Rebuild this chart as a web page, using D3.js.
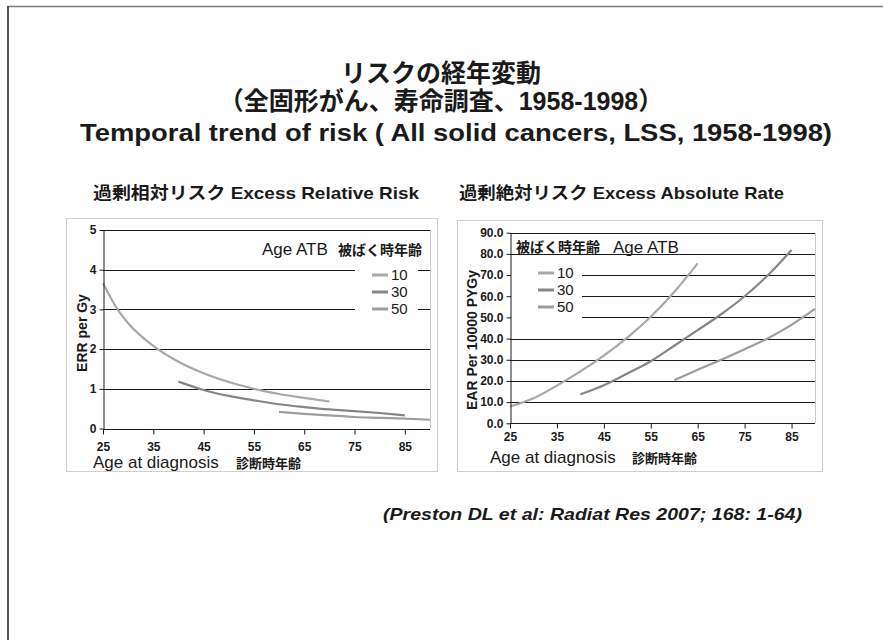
<!DOCTYPE html>
<html><head><meta charset="utf-8">
<script src="https://cdn.jsdelivr.net/npm/d3@7"></script>
<style>
body{margin:0;background:#fff;}
svg{display:block;}
text{font-family:"Liberation Sans",Arial,"Noto Sans CJK JP",sans-serif;fill:#1a1a1a;}
</style></head>
<body>
<svg id="c" width="883" height="640"></svg>
<script>
// ---------- data ----------
const titleLines = ["リスクの経年変動", "（全固形がん、寿命調査、1958-1998）", "Temporal trend of risk ( All solid cancers, LSS, 1958-1998)"];
const subTitles = ["過剰相対リスク Excess Relative Risk", "過剰絶対リスク Excess Absolute Rate"];
const citation = "(Preston DL et al: Radiat Res 2007; 168: 1-64)";
const ageTicks = [25, 35, 45, 55, 65, 75, 85];
const ageDomain = [25, 90];
const seriesNames = ["10", "30", "50"];
const seriesColors = ["#a8a8a8", "#868686", "#9e9e9e"];

const errTicks = [0, 1, 2, 3, 4, 5];
const errAge10 = [25, 28, 30, 35, 40, 45, 50, 55, 60, 65, 70];
const errVal10 = [3.66, 2.98, 2.65, 2.08, 1.68, 1.39, 1.17, 1.0, 0.87, 0.77, 0.68];
const errAge30 = [40, 45, 50, 55, 60, 65, 70, 75, 80, 85];
const errVal30 = [1.18, 0.97, 0.82, 0.71, 0.61, 0.54, 0.48, 0.44, 0.39, 0.33];
const errAge50 = [60, 65, 70, 75, 80, 85, 90];
const errVal50 = [0.42, 0.37, 0.33, 0.29, 0.27, 0.25, 0.22];

const earTicks = [0, 10, 20, 30, 40, 50, 60, 70, 80, 90];
const earAge10 = [25, 30, 35, 40, 45, 50, 55, 60, 65];
const earVal10 = [7.9, 11.8, 17.8, 24.5, 32.0, 40.5, 50.3, 62.0, 75.5];
const earAge30 = [40, 45, 50, 55, 60, 65, 70, 75, 80, 85];
const earVal30 = [13.7, 18.0, 23.5, 29.3, 36.6, 44.0, 51.5, 60.0, 70.0, 81.8];
const earAge50 = [60, 65, 70, 75, 80, 85, 90];
const earVal50 = [20.4, 25.3, 30.0, 35.0, 40.2, 46.5, 54.0];

// ---------- drawing ----------
const svg = d3.select("#c");

// page frame (top & left)
svg.append("line").attr("x1", 7).attr("x2", 883).attr("y1", 6.5).attr("y2", 6.5).attr("stroke", "#777").attr("stroke-width", 1.5);
svg.append("line").attr("x1", 8).attr("x2", 8).attr("y1", 6).attr("y2", 640).attr("stroke", "#555").attr("stroke-width", 2);

// titles
const tl = svg.append("g").attr("font-weight", "bold").attr("text-anchor", "middle");
tl.append("text").attr("x", 441).attr("y", 82).attr("font-size", 25).text(titleLines[0]);
tl.append("text").attr("x", 441).attr("y", 110).attr("font-size", 25).text(titleLines[1]);
tl.append("text").attr("x", 456).attr("y", 141).attr("font-size", 24)
  .attr("textLength", 752).attr("lengthAdjust", "spacingAndGlyphs").text(titleLines[2]);

svg.append("text").attr("x", 93).attr("y", 199).attr("font-size", 17).attr("font-weight", "bold")
  .attr("textLength", 326).attr("lengthAdjust", "spacingAndGlyphs").text(subTitles[0]);
svg.append("text").attr("x", 459).attr("y", 199).attr("font-size", 17).attr("font-weight", "bold")
  .attr("textLength", 325).attr("lengthAdjust", "spacingAndGlyphs").text(subTitles[1]);

svg.append("text").attr("x", 383).attr("y", 520).attr("font-size", 17).attr("font-weight", "bold").attr("font-style", "italic")
  .attr("textLength", 419).attr("lengthAdjust", "spacingAndGlyphs").text(citation);

function drawChart(cfg) {
  const g = svg.append("g");
  g.append("rect").attr("x", cfg.box[0] + 0.5).attr("y", cfg.box[1] + 0.5)
    .attr("width", cfg.box[2] - cfg.box[0]).attr("height", cfg.box[3] - cfg.box[1])
    .attr("fill", "#fff").attr("stroke", "#cfcfcf");
  const x = d3.scaleLinear().domain(ageDomain).range([cfg.plot[0], cfg.plot[1]]);
  const y = d3.scaleLinear().domain(cfg.yDomain).range([cfg.plot[2], cfg.plot[3]]);

  // plot right border
  g.append("line").attr("x1", cfg.plot[1] + 0.5).attr("x2", cfg.plot[1] + 0.5)
    .attr("y1", cfg.plot[3]).attr("y2", cfg.plot[2]).attr("stroke", "#c8c8c8");

  // gridlines
  g.append("g").selectAll("line").data(cfg.yTicks.filter(d => d > 0)).join("line")
    .attr("x1", cfg.plot[0]).attr("x2", cfg.plot[1])
    .attr("y1", d => Math.round(y(d)) + 0.5).attr("y2", d => Math.round(y(d)) + 0.5)
    .attr("stroke", "#1a1a1a");

  // legend background (hides gridlines)
  g.append("rect").attr("x", cfg.legBg[0]).attr("y", cfg.legBg[1])
    .attr("width", cfg.legBg[2] - cfg.legBg[0]).attr("height", cfg.legBg[3] - cfg.legBg[1]).attr("fill", "#fff");

  // series
  const line = d3.line().x(d => x(d[0])).y(d => y(d[1])).curve(d3.curveMonotoneX);
  cfg.series.forEach((s, i) => {
    const pts = s.ages.map((a, k) => [a, s.vals[k]]);
    g.append("path").datum(pts).attr("d", line).attr("fill", "none")
      .attr("stroke", seriesColors[i]).attr("stroke-width", 2.2);
  });

  // axes
  const ya = g.append("g").attr("transform", `translate(${cfg.plot[0] + 0.5},0)`)
    .call(d3.axisLeft(y).tickValues(cfg.yTicks).tickFormat(cfg.yFormat).tickSize(4).tickSizeOuter(0).tickPadding(3));
  const xa = g.append("g").attr("transform", `translate(0,${Math.round(y(0)) + 0.5})`)
    .call(d3.axisBottom(x).tickValues(ageTicks).tickSize(5).tickSizeOuter(0).tickPadding(cfg.xPad));
  [ya, xa].forEach(a => {
    a.select(".domain").attr("stroke", "#1a1a1a");
    a.selectAll(".tick line").attr("stroke", "#1a1a1a");
    a.selectAll(".tick text").attr("font-size", 12).attr("font-weight", "bold").attr("fill", "#1a1a1a")
      .attr("font-family", '"Liberation Sans",Arial,sans-serif');
  });
  xa.select(".domain").attr("d", `M${cfg.plot[0]},0H${cfg.plot[1]}`);

  // axis titles
  g.append("text").attr("transform", `translate(${cfg.yLabel[0]},${cfg.yLabel[1]}) rotate(-90)`)
    .attr("text-anchor", "middle").attr("font-size", cfg.yLabel[2]).attr("font-weight", "bold")
    .attr("dy", "0.35em").text(cfg.yTitle);
  g.append("text").attr("x", cfg.xLabel[0]).attr("y", cfg.xLabel[1]).attr("font-size", 17).text("Age at diagnosis");
  g.append("text").attr("x", cfg.xLabel[2]).attr("y", cfg.xLabel[1]).attr("font-size", 13).attr("font-weight", "bold").text("診断時年齢");

  // legend header
  g.append("text").attr("x", cfg.legHead.en[0]).attr("y", cfg.legHead.en[1]).attr("font-size", 17).text("Age ATB");
  g.append("text").attr("x", cfg.legHead.jp[0]).attr("y", cfg.legHead.jp[1]).attr("font-size", 14).attr("font-weight", "bold").text("被ばく時年齢");

  // legend entries
  seriesNames.forEach((n, i) => {
    const yy = cfg.legY[i];
    g.append("line").attr("x1", cfg.legX[0]).attr("x2", cfg.legX[1]).attr("y1", yy).attr("y2", yy)
      .attr("stroke", seriesColors[i]).attr("stroke-width", 3);
    g.append("text").attr("x", cfg.legX[1] + 3).attr("y", yy).attr("dy", "0.36em").attr("font-size", 15).text(n);
  });
}

drawChart({
  box: [66, 218, 437, 471],
  plot: [103, 430, 428.5, 230],
  yDomain: [0, 5], yTicks: errTicks, yFormat: d3.format("d"),
  xPad: 8,
  series: [{ages: errAge10, vals: errVal10}, {ages: errAge30, vals: errVal30}, {ages: errAge50, vals: errVal50}],
  legBg: [355, 259, 418, 318],
  yTitle: "ERR per Gy", yLabel: [82, 333, 14],
  xLabel: [93, 468, 236],
  legHead: {en: [262, 255], jp: [338, 255]},
  legX: [372, 388], legY: [275, 292, 309]
});

drawChart({
  box: [457, 220, 822, 471],
  plot: [510, 815, 423.3, 232.7],
  yDomain: [0, 90], yTicks: earTicks, yFormat: d3.format(".1f"),
  xPad: 4,
  series: [{ages: earAge10, vals: earVal10}, {ages: earAge30, vals: earVal30}, {ages: earAge50, vals: earVal50}],
  legBg: [511, 262, 582, 320],
  yTitle: "EAR Per 10000 PYGy", yLabel: [472, 340, 14],
  xLabel: [490, 463, 632],
  legHead: {en: [613, 253], jp: [516, 252]},
  legX: [538, 554], legY: [273, 290, 307]
});
</script>
</body></html>
